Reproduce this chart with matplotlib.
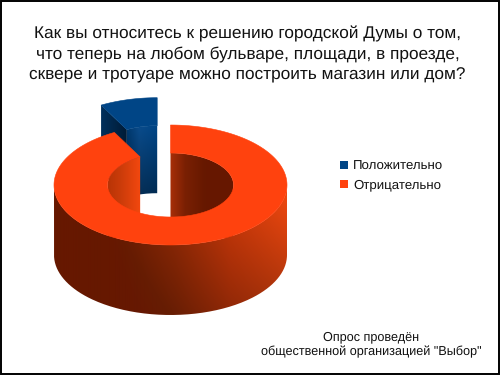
import numpy as np
import matplotlib
matplotlib.use("Agg")
import matplotlib.pyplot as plt
from matplotlib.patches import Patch, PathPatch, Polygon, Rectangle
from matplotlib.path import Path
from matplotlib.colors import to_rgb

plt.rcParams['font.family'] = ['Liberation Sans', 'DejaVu Sans']
plt.rcParams['text.hinting'] = 'no_hinting'

categories = ["Положительно", "Отрицательно"]
values = [8, 92]
colors = ["#004586", "#ff420e"]
title = ("Как вы относитесь к решению городской Думы о том,\n"
         "что теперь на любом бульваре, площади, в проезде,\n"
         "сквере и тротуаре можно построить магазин или дом?")
note = "Опрос проведён\nобщественной организацией \"Выбор\""

# ring geometry in pixels
CX, CY = 170.5, 185
A, B = 116.5, 60
IA, IB = 63, 32
DEPTH = 70
EXPLODE = (-13.3, -27.3)


def arc(cx, cy, a, b, t0, t1, n=120):
    # angles clockwise from 12 o'clock, in degrees
    t = np.radians(np.linspace(t0, t1, n))
    return np.column_stack((cx + a * np.sin(t), cy - b * np.cos(t)))


def down(pts, d):
    return pts + np.array([0, d])


def shaded(ax, pts, xs, cols, ys=(0, 1), mult=(1, 1), floor=None, zorder=1):
    # horizontal colour ramp times a vertical brightness ramp, clipped to pts
    x0, x1 = pts[:, 0].min() - 1, pts[:, 0].max() + 1
    y0, y1 = pts[:, 1].min() - 1, pts[:, 1].max() + 1
    gx = np.linspace(x0, x1, int(x1 - x0) * 2 + 2)
    gy = np.linspace(y0, y1, int(y1 - y0) * 2 + 2)
    rgb = np.array([to_rgb(c) for c in cols])
    row = np.column_stack([np.interp(gx, xs, rgb[:, i]) for i in range(3)])
    m = np.interp(gy, ys, mult)
    img = row[None, :, :] * m[:, None, None]
    if floor is not None:
        img = np.maximum(img, np.array(to_rgb(floor)))
    im = ax.imshow(np.clip(img, 0, 1), extent=(x0, x1, y1, y0), aspect='auto',
                   interpolation='bilinear', zorder=zorder)
    patch = PathPatch(Path(pts), transform=ax.transData)
    im.set_clip_path(patch)
    ax.set_xlim(0, 500)
    ax.set_ylim(375, 0)


fig = plt.figure(figsize=(5, 3.75), dpi=100)
ax = fig.add_axes([0, 0, 1, 1])
ax.set_xlim(0, 500)
ax.set_ylim(375, 0)
ax.axis('off')

split = 360 * values[1] / sum(values)

# exploded blue slice, only the cut face, inner wall and top are visible
bx, by = CX + EXPLODE[0], CY + EXPLODE[1]
bd = DEPTH - 2.5
outer_b = arc(bx, by, A, B, split, 360)
inner_b = arc(bx, by, IA, IB, split, 360)
cut = np.array([outer_b[0], inner_b[0], down(inner_b[:1], bd)[0], down(outer_b[:1], bd)[0]])
shaded(ax, cut, [cut[0, 0], cut[1, 0]], ["#00305c", "#001b36"], zorder=1)
wall_b = np.vstack((inner_b, down(inner_b, bd)[::-1]))
shaded(ax, wall_b, [inner_b[0, 0], inner_b[0, 0] + 12, inner_b[-1, 0]],
       ["#00396f", "#0a4c8c", "#004586"],
       [inner_b[:, 1].min(), inner_b[:, 1].min() + bd], [1.0, 0.62], zorder=2)
ax.add_patch(Polygon(np.vstack((outer_b, inner_b[::-1])), fc=colors[0], ec=colors[0],
                     lw=0.4, zorder=3))

# orange ring: inner wall, outer wall, then the flat top
right_in = arc(CX, CY, IA, IB, 0, 95)
left_in = arc(CX, CY, IA, IB, 265, split)
shaded(ax, np.vstack((right_in, down(right_in, DEPTH)[::-1])),
       [CX, CX + 14, CX + 34, CX + IA],
       ["#a52e08", "#7a2003", "#661800", "#661800"], zorder=4)
shaded(ax, np.vstack((left_in, down(left_in, DEPTH)[::-1])),
       [CX - IA, CX - 50, left_in[-1, 0]],
       ["#b83406", "#cc3c0a", "#f4480f"], zorder=4)

front = arc(CX, CY, A, B, 90, 270, 200)
shaded(ax, np.vstack((front, down(front, DEPTH)[::-1])),
       [CX - A, CX - 70, CX - 35, CX + 5, CX + 60, CX + 100, CX + A],
       ["#661800", "#661800", "#7c2203", "#9a2c06", "#d03a0a", "#e5440e", "#ee4810"],
       [CY + 10, CY + DEPTH + B], [1.0, 0.68], floor="#661800", zorder=5)

outer_o = arc(CX, CY, A, B, 0, split, 300)
inner_o = arc(CX, CY, IA, IB, 0, split, 300)
ax.add_patch(Polygon(np.vstack((outer_o, inner_o[::-1])), fc=colors[1], ec=colors[1],
                     lw=0.4, zorder=6))

ax.text(247.5, 54.5, title, ha='center', va='center', fontsize=12.4, color='#111111',
        linespacing=1.34)
ax.text(371, 344.5, note, ha='center', va='center', fontsize=9.1, color='#111111',
        linespacing=1.3)

handles = [Patch(fc=c, ec='none') for c in colors]
ax.legend(handles, categories, loc='upper left', bbox_to_anchor=(0.68, 0.572),
          frameon=False, fontsize=9.5, handlelength=0.6, handleheight=0.6,
          handletextpad=0.4, labelspacing=0.5, borderpad=0, borderaxespad=0,
          labelcolor='#111111')

ax.add_patch(Rectangle((0.5, 0.5), 498.5, 373.5, fc='none', ec='black', lw=1.4, zorder=10))

fig.savefig("out.png", dpi=100)
